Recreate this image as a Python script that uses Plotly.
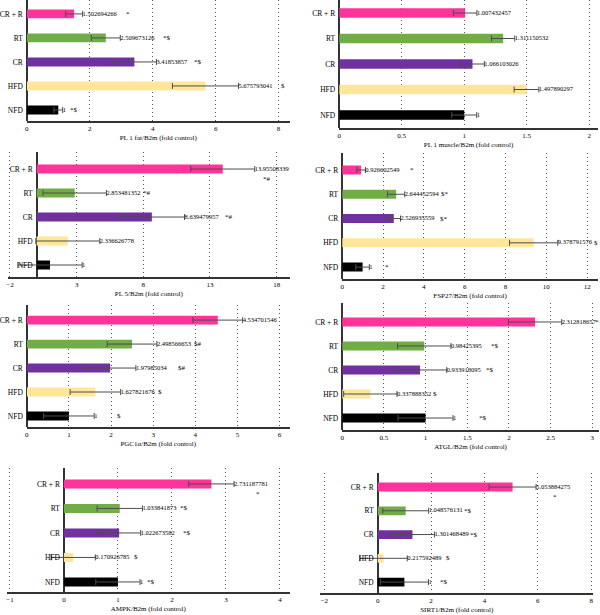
import plotly.graph_objects as go

categories = ["NFD", "HFD", "CR", "RT", "CR + R"]
bar_colors = ["#000000", "#FFE699", "#7030A0", "#70AD47", "#FF3399"]

titles = ["PL 1 fat/B2m (fold control)", "PL 1 muscle/B2m (fold control)",
          "PL 5/B2m (fold control)", "FSP27/B2m (fold control)",
          "PGC1α/B2m (fold control)", "ATGL/B2m (fold control)",
          "AMPK/B2m (fold control)", "SIRT1/B2m (fold control)"]

pl1fat_vals = [1, 5.675793041, 3.41853857, 2.509673126, 1.502694266]
pl1fat_err = [0.14, 1.05, 0.70, 0.46, 0.27]
pl1fat_sig = ["*$", "$", "*$", "*$", "*"]

pl1mus_vals = [1, 1.497890297, 1.066103026, 1.311150532, 1.007432457]
pl1mus_err = [0.10, 0.099, 0.095, 0.093, 0.094]
pl1mus_sig = ["", "", "", "", ""]

pl5_vals = [1, 2.336626778, 8.639479957, 2.853481352, 13.95508339]
pl5_err = [2.41, 2.4, 2.45, 2.38, 2.4]
pl5_sig = ["", "", "*#", "*#", "*#"]

fsp27_vals = [1, 9.378791576, 2.526935559, 2.644452594, 0.926602549]
fsp27_err = [0.33, 1.18, 0.33, 0.42, 0.21]
fsp27_sig = ["*", "$", "$*", "$*", "*"]

pgc_vals = [1, 1.627821676, 1.97985034, 2.498566653, 4.534701546]
pgc_err = [0.6, 0.6, 0.61, 0.59, 0.59]
pgc_sig = ["$", "$", "$#", "$#", ""]

atgl_vals = [1, 0.337888352, 0.933918095, 0.98425395, 2.312818657]
atgl_err = [0.33, 0.32, 0.32, 0.32, 0.32]
atgl_sig = ["*$", "$", "*$", "*$", "*"]

ampk_vals = [1, 0.170926785, 1.022673582, 1.033841873, 2.731187781]
ampk_err = [0.41, 0.41, 0.40, 0.42, 0.42]
ampk_sig = ["*$", "$", "*$", "*$", "*"]

sirt_vals = [1, 0.217592489, 1.301468489, 1.048576131, 5.053884275]
sirt_err = [0.9, 0.89, 0.83, 0.86, 0.88]
sirt_sig = ["*$", "$", "*$", "*$", "*"]

# annotation positions for significance marks (data units) and whether shifted below
sig_x = [
    [1.5, 8.15, 5.45, 4.45, 3.21],
    [None] * 5,
    [None, None, 14.4, 8.3, 17.3],
    [2.2, 12.45, 4.97, 5.05, 3.43],
    [2.2, 3.17, 3.68, 4.07, None],
    [1.69, 1.11, 1.77, 1.83, 3.05],
    [1.62, 1.34, 2.28, 2.22, 3.6],
    [2.5, 2.63, 3.6, 3.4, 6.63],
]
sig_below = [False, False, True, False, False, False, True, True]

vals = [pl1fat_vals, pl1mus_vals, pl5_vals, fsp27_vals, pgc_vals, atgl_vals, ampk_vals, sirt_vals]
errs = [pl1fat_err, pl1mus_err, pl5_err, fsp27_err, pgc_err, atgl_err, ampk_err, sirt_err]
sigs = [pl1fat_sig, pl1mus_sig, pl5_sig, fsp27_sig, pgc_sig, atgl_sig, ampk_sig, sirt_sig]

# layout in pixels: x domain, x range, y domain (top, bottom px), y range, tick0, dtick
W, H = 600, 615
geo = [
    ((22, 287), (0, 8.35), (0, 121), (-0.46, 4.58), 0, 2),
    ((337, 598), (0, 2.07), (0, 128), (-0.51, 4.51), 0, 0.5),
    ((3, 287), (-2.15, 18.97), (152, 277), (-0.5, 4.71), -2, 5),
    ((340, 598), (0, 12.53), (153, 279), (-0.49, 4.7), 0, 2),
    ((22, 287), (0, 6.24), (305, 427), (-0.46, 4.63), 0, 1),
    ((340, 599), (0, 3.08), (303, 430), (-0.5, 4.79), 0, 0.5),
    ((2, 287), (-1.055, 4.18), (468, 592), (-0.41, 4.65), -1, 1),
    ((318, 593), (-2.15, 8.07), (473, 593), (-0.46, 4.59), -2, 2),
]

FONT = "Liberation Serif"
TXT = "#000000"

def fmt(v):
    s = repr(float(v))
    return s[:-2] if s.endswith(".0") else s

fig = go.Figure()
annotations = []
layout = {}
for i in range(8):
    n = i + 1
    xa = "x" if n == 1 else f"x{n}"
    ya = "y" if n == 1 else f"y{n}"
    v, e, s = vals[i], errs[i], sigs[i]
    fig.add_trace(go.Bar(
        x=v, y=categories, orientation="h", xaxis=xa, yaxis=ya,
        marker=dict(color=bar_colors, line=dict(width=0)), width=0.37,
        error_x=dict(type="data", array=e, visible=True, color="#4d4d4d",
                     thickness=1, width=3),
        showlegend=False, hoverinfo="skip"))
    fig.add_trace(go.Scatter(
        x=[a + b for a, b in zip(v, e)], y=categories, mode="text",
        text=[fmt(a) for a in v], textposition="middle right",
        textfont=dict(family=FONT, size=6.5, color=TXT),
        xaxis=xa, yaxis=ya, showlegend=False, hoverinfo="skip", cliponaxis=False))
    for j, t in enumerate(s):
        if t and sig_x[i][j] is not None:
            below = sig_below[i] and j == 4
            annotations.append(dict(
                x=sig_x[i][j], y=categories[j], xref=xa, yref=ya, text=t,
                showarrow=False, yshift=-10 if below else 0,
                font=dict(family=FONT, size=7, color=TXT)))
    (dx0, dx1), (rx0, rx1), (dy0, dy1), (ry0, ry1), t0, dt = geo[i]
    xdom = [dx0 / W, dx1 / W]
    zero_px = dx0 + (0 - rx0) / (rx1 - rx0) * (dx1 - dx0)
    layout["xaxis" if n == 1 else f"xaxis{n}"] = dict(
        domain=xdom, range=[rx0, rx1], anchor=ya, tick0=t0, dtick=dt,
        showgrid=True, gridcolor="#555555", griddash="1px,3px", gridwidth=1,
        zeroline=True, zerolinecolor="#333333", zerolinewidth=1.5,
        showline=True, linecolor="#333333", linewidth=1.5, ticks="",
        tickfont=dict(family=FONT, size=7, color=TXT),
        title=dict(text=titles[i], standoff=3,
                   font=dict(family=FONT, size=7, color=TXT)),
        fixedrange=True)
    layout["yaxis" if n == 1 else f"yaxis{n}"] = dict(
        domain=[1 - dy1 / H, 1 - dy0 / H], range=[ry0, ry1],
        anchor="free", position=zero_px / W,
        categoryorder="array", categoryarray=categories,
        showgrid=False, zeroline=False, showline=False, ticks="",
        ticklabelstandoff=4,
        tickfont=dict(family=FONT, size=7.5, color=TXT), fixedrange=True)

fig.update_layout(
    width=W, height=H, margin=dict(l=0, r=0, t=0, b=0),
    paper_bgcolor="white", plot_bgcolor="white",
    annotations=annotations, **layout)

fig.write_html("out.html")
